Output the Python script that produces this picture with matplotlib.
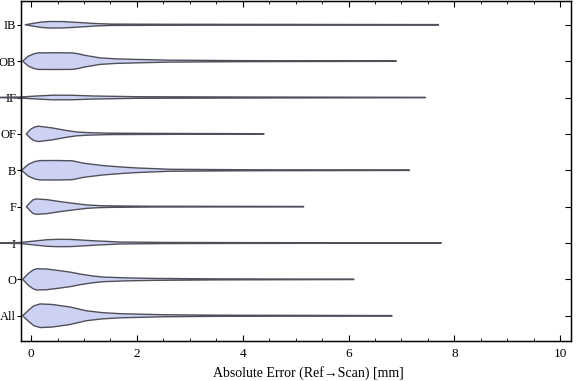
import matplotlib.pyplot as plt
from matplotlib.ticker import MultipleLocator
import numpy as np

plt.rcParams['font.family'] = ['Liberation Serif', 'DejaVu Serif']

# categories, top to bottom
labels = ['IB', 'OB', 'IF', 'OF', 'B', 'F', 'I', 'O', 'All']

# violin profiles: error value (mm) and half width (row units)
ib_x = [-0.11, 0.05, 0.2, 0.36, 0.6, 0.9, 1.2, 1.5, 2.5, 4.0, 7.7]
ib_w = [0.0, 0.041, 0.075, 0.09, 0.088, 0.063, 0.035, 0.019, 0.014, 0.011, 0.005]

ob_x = [-0.16, -0.05, 0.05, 0.13, 0.45, 0.78, 0.9, 1.0, 1.3, 1.6, 2.0, 2.6, 4.0, 6.9]
ob_w = [0.0, 0.137, 0.2, 0.227, 0.23, 0.227, 0.2, 0.164, 0.09, 0.063, 0.047, 0.027, 0.014, 0.005]

if_x = [-0.59, -0.2, 0.1, 0.4, 0.75, 1.2, 2.0, 4.0, 7.45]
if_w = [0.005, 0.014, 0.041, 0.063, 0.063, 0.041, 0.022, 0.014, 0.005]

of_x = [-0.09, 0.0, 0.07, 0.14, 0.4, 0.68, 0.85, 1.05, 1.5, 2.9, 4.4]
of_w = [0.0, 0.137, 0.19, 0.211, 0.164, 0.09, 0.055, 0.036, 0.019, 0.011, 0.005]

b_x = [-0.18, -0.05, 0.07, 0.17, 0.5, 0.78, 1.0, 1.36, 1.7, 2.0, 2.63, 4.0, 7.15]
b_w = [0.0, 0.164, 0.24, 0.266, 0.268, 0.26, 0.192, 0.129, 0.09, 0.063, 0.027, 0.014, 0.005]

f_x = [-0.09, 0.0, 0.04, 0.1, 0.3, 0.55, 0.8, 1.05, 1.3, 1.55, 2.3, 5.15]
f_w = [0.0, 0.137, 0.19, 0.211, 0.192, 0.137, 0.09, 0.047, 0.027, 0.019, 0.011, 0.005]

i_x = [-0.59, -0.2, 0.1, 0.3, 0.5, 0.75, 1.2, 1.68, 2.5, 4.0, 7.75]
i_w = [0.005, 0.014, 0.06, 0.09, 0.101, 0.099, 0.06, 0.027, 0.016, 0.011, 0.005]

o_x = [-0.16, -0.05, 0.04, 0.11, 0.3, 0.55, 0.75, 0.93, 1.15, 1.37, 1.8, 2.3, 3.5, 6.1]
o_w = [0.0, 0.164, 0.26, 0.293, 0.283, 0.238, 0.197, 0.145, 0.096, 0.063, 0.041, 0.027, 0.014, 0.005]

all_x = [-0.16, -0.05, 0.05, 0.17, 0.4, 0.74, 0.9, 1.05, 1.35, 1.68, 2.5, 3.5, 5.0, 6.82]
all_w = [0.0, 0.15, 0.27, 0.325, 0.31, 0.24, 0.185, 0.135, 0.085, 0.057, 0.028, 0.016, 0.011, 0.005]

profiles = [(ib_x, ib_w), (ob_x, ob_w), (if_x, if_w), (of_x, of_w), (b_x, b_w),
            (f_x, f_w), (i_x, i_w), (o_x, o_w), (all_x, all_w)]

fig = plt.figure(figsize=(5.76, 3.81), dpi=100)
ax = fig.add_axes([0.0365, 0.105, 0.9545, 0.893])

ypos = np.arange(len(labels), 0, -1)
for y, (xs, ws) in zip(ypos, profiles):
    xs = np.array(xs)
    ws = np.array(ws)
    px = np.concatenate([xs, xs[::-1]])
    py = np.concatenate([y + ws, (y - ws)[::-1]])
    ax.fill(px, py, facecolor='#cdd2f4', edgecolor='#50505a', lw=1.0,
            joinstyle='round', clip_on=False, zorder=3)

ax.set_xlim(-0.19, 10.2)
ax.set_ylim(0.306, 9.66)
ax.set_yticks(ypos)
ax.set_yticklabels(labels, fontsize=9)
ax.set_xticks(np.arange(0, 11, 2))
ax.xaxis.set_minor_locator(MultipleLocator(0.5))
ax.tick_params(axis='x', which='major', direction='in', length=4, width=0.8,
               top=True, labelsize=9.5, pad=5)
ax.tick_params(axis='x', which='minor', direction='in', length=2, width=0.6, top=True)
ax.tick_params(axis='y', which='major', direction='out', length=3, width=0.8,
               labelsize=9, pad=0.5)
ax.tick_params(axis='y', which='minor', left=False)
for s in ax.spines.values():
    s.set_linewidth(1.0)

# inward ticks on the right side of the frame
ax2 = ax.twinx()
ax2.set_ylim(ax.get_ylim())
ax2.set_yticks(ypos)
ax2.set_yticklabels([])
ax2.tick_params(axis='y', direction='in', length=4, width=0.8)

ax.set_xlabel('Absolute Error (Ref\u2192Scan) [mm]', fontsize=10)
ax.xaxis.set_label_coords(0.522, -0.075)

fig.savefig('out.png', dpi=100)
